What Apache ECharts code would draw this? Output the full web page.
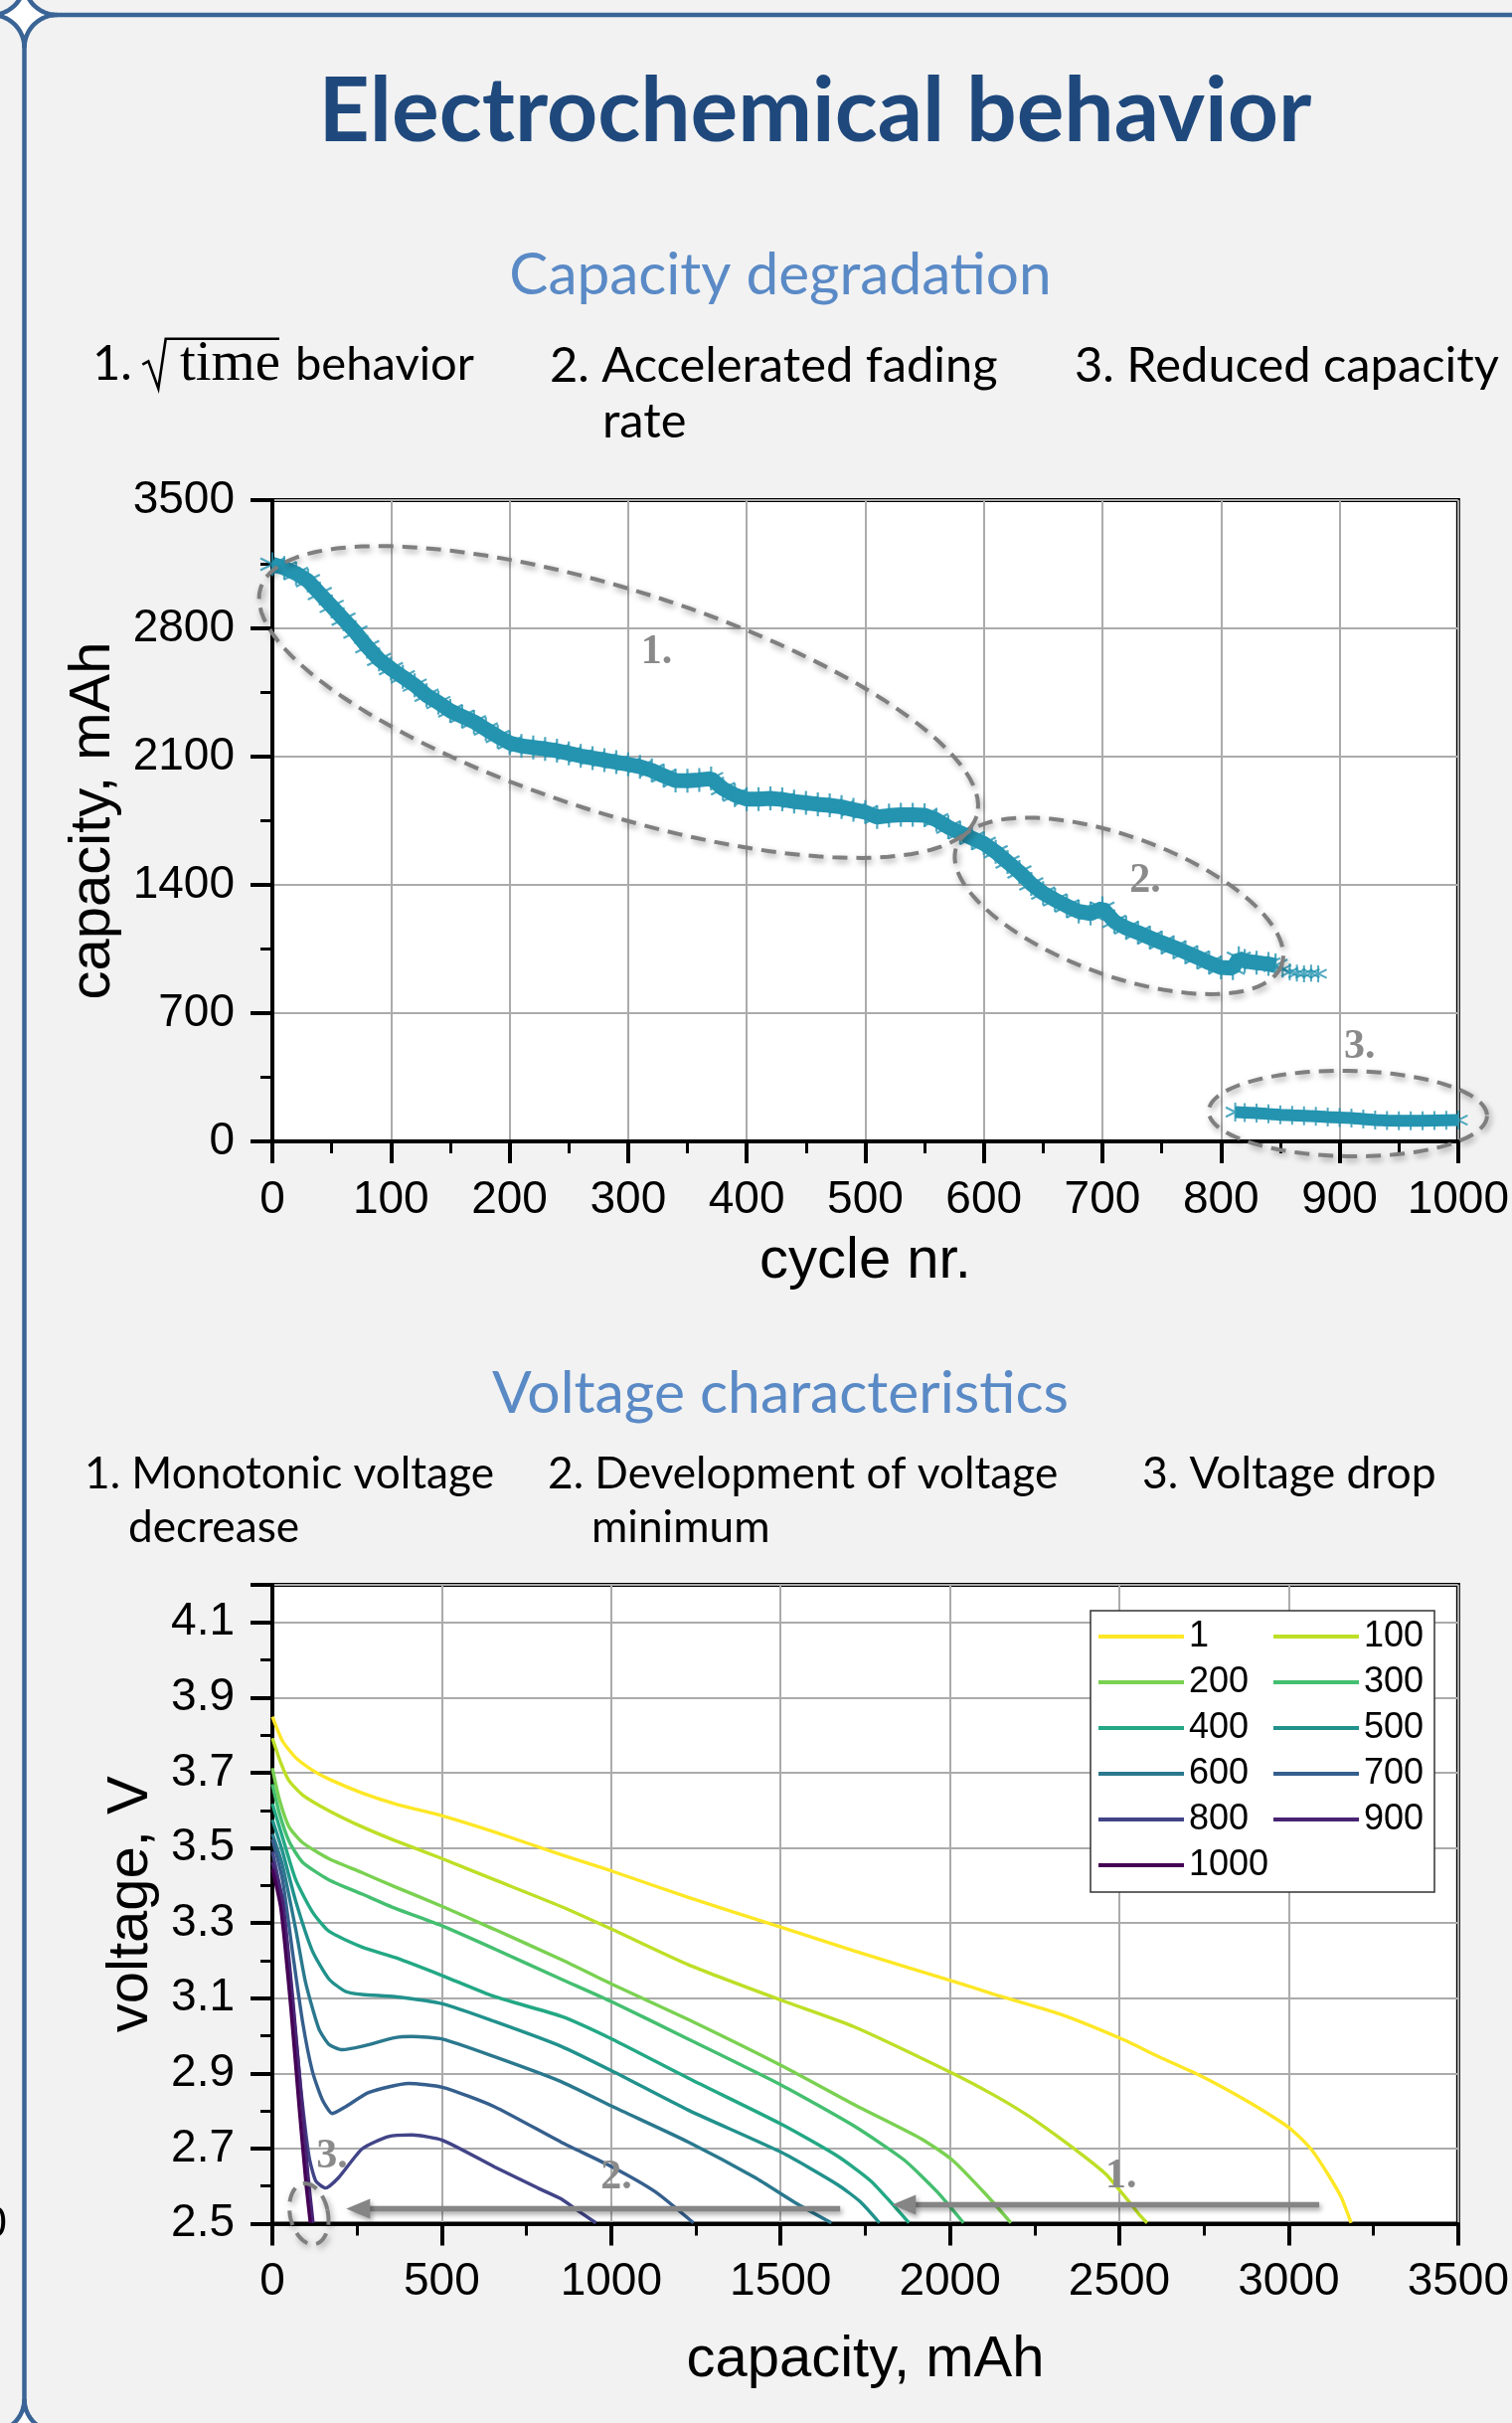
<!DOCTYPE html>
<html><head><meta charset="utf-8">
<script src="https://cdn.jsdelivr.net/npm/echarts@6/dist/echarts.min.js"></script>
<style>html,body{margin:0;padding:0;background:#f2f2f2;}#c{width:1521px;height:2437px;}</style>
</head><body><div id="c"></div>
<script>
// ---------------- DATA ----------------
// Capacity degradation (cycle nr. vs capacity, mAh)
const capCycles = [0,10,20,30,40,50,60,70,80,90,100,110,120,130,140,150,160,170,180,190,200,210,220,230,240,250,260,270,280,290,300,310,320,330,340,350,360,370,380,390,400,410,420,430,440,450,460,470,480,490,500,510,520,530,540,550,560,570,580,590,600,610,620,630,640,650,660,670,680,690,700,710,720,730,740,750,760,770,780,790,800,810,815,820,830,840,846];
const capValues = [3150,3130,3100,3060,2990,2920,2850,2780,2700,2630,2580,2535,2490,2435,2395,2350,2320,2290,2250,2210,2175,2158,2150,2142,2132,2118,2104,2092,2081,2070,2058,2045,2025,1995,1970,1968,1973,1980,1925,1890,1868,1868,1872,1866,1855,1848,1840,1834,1825,1810,1797,1770,1778,1783,1782,1780,1755,1715,1685,1655,1626,1580,1525,1470,1405,1355,1318,1285,1255,1244,1272,1200,1165,1140,1112,1085,1060,1033,1005,975,950,945,1000,985,975,968,960];
const tailCycles = [852,858,864,870,876,882];
const tailValues = [940,925,918,915,918,915];
const lowCycles = [812,820,830,840,850,860,870,880,890,900,910,920,930,940,950,960,970,980,990,1000];
const lowValues = [160,158,155,150,145,142,140,137,133,130,127,122,117,114,112,112,113,114,115,116];

// Voltage characteristics (capacity, mAh vs voltage, V) per cycle
const cycleNames = ['1','100','200','300','400','500','600','700','800','900','1000'];
const c1Cap = [0,30,69,118,167,265,363,502,656,852,1003,1228,1504,1717,2006,2128,2324,2506,2617,2734,2862,2959,3008,3067,3116,3155,3184];
const c1V   = [3.849,3.784,3.740,3.707,3.683,3.646,3.617,3.585,3.542,3.482,3.438,3.368,3.288,3.226,3.146,3.111,3.058,2.992,2.944,2.896,2.834,2.781,2.750,2.697,2.631,2.570,2.502];
const c100Cap = [0,25,49,89,167,265,363,502,656,852,1003,1228,1504,1717,2006,2128,2226,2324,2402,2461,2519,2558,2582];
const c100V   = [3.792,3.726,3.679,3.641,3.599,3.556,3.519,3.471,3.415,3.344,3.283,3.189,3.094,3.024,2.901,2.843,2.790,2.728,2.675,2.631,2.569,2.525,2.502];
const c200Cap = [0,20,49,89,167,265,363,502,656,852,1003,1228,1504,1717,1913,2006,2108,2180];
const c200V   = [3.712,3.631,3.556,3.514,3.471,3.434,3.396,3.344,3.283,3.203,3.137,3.043,2.920,2.817,2.727,2.670,2.576,2.502];
const c300Cap = [0,20,49,89,167,265,363,502,656,852,1003,1228,1504,1717,1864,1962,2040];
const c300V   = [3.669,3.594,3.518,3.462,3.415,3.377,3.339,3.292,3.231,3.151,3.090,2.991,2.868,2.760,2.670,2.585,2.502];
const c400Cap = [0,30,69,118,167,265,363,502,656,852,1003,1228,1504,1668,1766,1825,1879];
const c400V   = [3.617,3.528,3.415,3.330,3.278,3.236,3.208,3.160,3.104,3.052,2.991,2.887,2.764,2.680,2.614,2.557,2.502];
const c500Cap = [0,30,69,118,167,216,265,363,502,656,852,1003,1228,1504,1668,1737,1792];
const c500V   = [3.575,3.490,3.358,3.226,3.151,3.118,3.110,3.104,3.085,3.038,2.972,2.906,2.802,2.689,2.604,2.557,2.502];
const c600Cap = [0,30,69,98,137,167,206,265,363,412,502,656,852,1003,1228,1424,1541,1650];
const c600V   = [3.537,3.453,3.283,3.142,3.019,2.977,2.963,2.972,2.995,2.998,2.991,2.944,2.878,2.812,2.717,2.623,2.557,2.502];
const c700Cap = [0,30,59,89,118,147,177,216,284,402,502,656,852,1003,1130,1243];
const c700V   = [3.523,3.415,3.226,3.038,2.906,2.831,2.793,2.811,2.849,2.873,2.863,2.811,2.717,2.651,2.585,2.502];
const c800Cap = [0,30,59,84,108,128,157,196,265,343,412,502,656,783,852,896,955];
const c800V   = [3.490,3.358,3.094,2.859,2.680,2.614,2.595,2.623,2.699,2.732,2.736,2.722,2.651,2.595,2.566,2.538,2.502];
const c900Cap = [0,30,60,85,105,120];
const c900V   = [3.462,3.360,3.100,2.840,2.630,2.502];
const c1000Cap = [0,25,55,80,100,112];
const c1000V   = [3.443,3.340,3.070,2.800,2.600,2.502];

// ---------------- STYLE ----------------
const curveData = [[c1Cap,c1V],[c100Cap,c100V],[c200Cap,c200V],[c300Cap,c300V],[c400Cap,c400V],[c500Cap,c500V],[c600Cap,c600V],[c700Cap,c700V],[c800Cap,c800V],[c900Cap,c900V],[c1000Cap,c1000V]];
const curveColors = ['#fde725','#bddf26','#7ad151','#44bf70','#22a884','#21918c','#2a788e','#355f8d','#414487','#482475','#440154'];
const TEAL = '#2494b0';
const AX = 'Liberation Sans, Arial, sans-serif';
const CAL = 'Lato';
const zip = (a,b) => a.map((v,i)=>[v,b[i]]);
const ASTER = 'path://M10,0L10,20M1.34,5L18.66,15M1.34,15L18.66,5';
const plain = v => String(v);

function axisX(idx, min, max, interval, name, gap){
  return {gridIndex: idx, type:'value', min, max, interval, name, nameLocation:'middle', nameGap: gap,
    nameTextStyle:{fontSize:58, color:'#000', fontFamily:AX},
    axisLine:{onZero:false, lineStyle:{color:'#000', width:4}},
    axisTick:{length:22, lineStyle:{color:'#000', width:4}},
    minorTick:{show:true, splitNumber:2, length:12, lineStyle:{color:'#000', width:3}},
    axisLabel:{fontSize:46, margin:36, color:'#000', fontFamily:AX, formatter: plain},
    splitLine:{show:true, lineStyle:{color:'#ababab', width:2}}};
}
function axisY(idx, min, max, interval, name, gap, fmt){
  return {gridIndex: idx, type:'value', min, max, interval, name, nameLocation:'middle', nameGap: gap,
    nameTextStyle:{fontSize:58, color:'#000', fontFamily:AX},
    axisLine:{onZero:false, lineStyle:{color:'#000', width:4}},
    axisTick:{length:22, lineStyle:{color:'#000', width:4}},
    minorTick:{show:true, splitNumber:2, length:12, lineStyle:{color:'#000', width:3}},
    axisLabel:{fontSize:46, margin:38, color:'#000', fontFamily:AX, formatter: fmt || plain, showMaxLabel: fmt ? false : true},
    splitLine:{show:true, lineStyle:{color:'#ababab', width:2}}};
}

const series = [
  {type:'line', xAxisIndex:0, yAxisIndex:0, data: zip(capCycles, capValues), showSymbol:false, lineStyle:{color:TEAL, width:15}, z:2, silent:true},
  {type:'scatter', xAxisIndex:0, yAxisIndex:0, data: zip(capCycles, capValues), symbol:ASTER, symbolSize:24, itemStyle:{color:TEAL, borderColor:TEAL, borderWidth:2.2}, z:3, silent:true},
  {type:'scatter', xAxisIndex:0, yAxisIndex:0, data: zip(tailCycles, tailValues), symbol:ASTER, symbolSize:17, itemStyle:{color:TEAL, borderColor:TEAL, borderWidth:2}, z:3, silent:true},
  {type:'line', xAxisIndex:0, yAxisIndex:0, data: zip(lowCycles, lowValues), showSymbol:false, lineStyle:{color:TEAL, width:12}, z:2, silent:true},
  {type:'scatter', xAxisIndex:0, yAxisIndex:0, data: zip(lowCycles, lowValues), symbol:ASTER, symbolSize:19, itemStyle:{color:TEAL, borderColor:TEAL, borderWidth:2}, z:3, silent:true}
];
cycleNames.forEach((n,i)=>{
  series.push({type:'line', name:n, xAxisIndex:1, yAxisIndex:1, data: zip(curveData[i][0], curveData[i][1]),
    showSymbol:false, smooth:0.2, color: curveColors[i], lineStyle:{color:curveColors[i], width:3.4}, z:2, silent:true});
});

const legendBase = {orient:'vertical', itemWidth:86, itemHeight:4, itemGap:10, icon:'rect', padding:0, selectedMode:false,
  textStyle:{fontSize:36, lineHeight:36, color:'#000', fontFamily:AX}, z:10};

const option = {
  backgroundColor:'#f2f2f2',
  animation:false,
  grid:[
    {left:274, top:503, width:1195, height:645, show:true, backgroundColor:'#fff', borderColor:'#000', borderWidth:4},
    {left:274, top:1594, width:1195, height:642.5, show:true, backgroundColor:'#fff', borderColor:'#000', borderWidth:4}
  ],
  xAxis:[ axisX(0,0,1000,100,'cycle nr.',92), axisX(1,0,3500,500,'capacity, mAh',108) ],
  yAxis:[ axisY(0,0,3500,700,'capacity, mAh',147), axisY(1,2.5,4.2,0.2,'voltage, V',111, v=>v.toFixed(1)) ],
  legend:[
    Object.assign({}, legendBase, {data:['1','200','400','600','800','1000'], left:1105, top:1628}),
    Object.assign({}, legendBase, {data:['100','300','500','700','900'], left:1281, top:1628})
  ],
  series
};

const chart = echarts.init(document.getElementById('c'), null, {renderer:'canvas'});
chart.setOption(option);

// ---------------- ANNOTATIONS / TEXT ----------------
const mctx = document.createElement('canvas').getContext('2d');
function fit(text, weight, family, width){ mctx.font = weight+' 100px '+family; return 100*width/mctx.measureText(text).width; }
const MID = {Lato:0.387, 'Liberation Serif':0.3375, 'Liberation Sans':0.3465};
function txt(text, x, baseline, size, weight, family, fill, align){
  const k = MID[family] || 0.35;
  return {type:'text', x:x, y: baseline - k*size, z:20,
    style:{text, font: weight+' '+size.toFixed(1)+'px '+family, fill, textAlign:align||'left', textVerticalAlign:'middle', align:align||'left', verticalAlign:'middle'}};
}
function ellipse(c, rx, ry, rot){
  const pts=[]; const r = rot*Math.PI/180;
  for(let i=0;i<=120;i++){ const t=i/120*2*Math.PI; const u=rx*Math.cos(t), v=ry*Math.sin(t);
    pts.push([c[0]+u*Math.cos(r)-v*Math.sin(r), c[1]+u*Math.sin(r)+v*Math.cos(r)]); }
  return {type:'polyline', shape:{points:pts}, z:15, silent:true,
    style:{stroke:'#7f7f7f', fill:null, lineWidth:4, lineDash:[15,9], shadowBlur:6, shadowColor:'rgba(0,0,0,0.35)', shadowOffsetX:2, shadowOffsetY:3}};
}
function star(cx, cy, r){
  const pts=[]; const arc=(ox,oy,a0,a1)=>{for(let i=0;i<=20;i++){const a=(a0+(a1-a0)*i/20)*Math.PI/180; pts.push([ox+r*Math.cos(a), oy+r*Math.sin(a)]);}};
  arc(cx+r, cy+r, -90, -180); arc(cx-r, cy+r, 0, -90); arc(cx-r, cy-r, 90, 0); arc(cx+r, cy-r, 180, 90);
  return {type:'polygon', shape:{points:pts}, z:30, style:{fill:'#fff', stroke:'#3a6496', lineWidth:4.5}};
}
function arrow(p0, p1){ // p0 tail (right), p1 tip (left)
  const head=24, hw=10;
  return [
    {type:'line', shape:{x1:p0[0], y1:p0[1], x2:p1[0]+head-2, y2:p1[1]}, z:15,
      style:{stroke:'#858585', lineWidth:5.5, shadowBlur:5, shadowColor:'rgba(0,0,0,0.35)', shadowOffsetX:2, shadowOffsetY:3}},
    {type:'polygon', shape:{points:[[p1[0],p1[1]],[p1[0]+head,p1[1]-hw],[p1[0]+head,p1[1]+hw]]}, z:15,
      style:{fill:'#858585', shadowBlur:5, shadowColor:'rgba(0,0,0,0.35)', shadowOffsetX:2, shadowOffsetY:3}}
  ];
}
const P0 = v => chart.convertToPixel({xAxisIndex:0, yAxisIndex:0}, v);
const P1 = v => chart.convertToPixel({xAxisIndex:1, yAxisIndex:1}, v);
const annStyle = {shadowBlur:5, shadowColor:'rgba(0,0,0,0.4)', shadowOffsetX:2, shadowOffsetY:3};
function ann(label, p){ return {type:'text', x:p[0], y:p[1], z:16, style:Object.assign({text:label, font:'bold 42px Liberation Serif', fill:'#8a8a8a', textAlign:'center', textVerticalAlign:'middle', align:'center', verticalAlign:'middle'}, annStyle)}; }

const g = [];
// page frame
g.push({type:'line', shape:{x1:40, y1:15, x2:1521, y2:15}, z:29, style:{stroke:'#3a6496', lineWidth:4.5}});
g.push({type:'line', shape:{x1:24.5, y1:30, x2:24.5, y2:2420}, z:29, style:{stroke:'#3a6496', lineWidth:4.5}});
g.push(star(24.5, 15, 33));
g.push(star(24.5, 2446, 33));
g.push({type:'text', x:7, y:2238, z:20, style:{text:'0', font:'45px Liberation Sans', fill:'#000', textAlign:'right', textVerticalAlign:'middle', align:'right', verticalAlign:'middle'}});

// headings
const DARK='#1f497d', LIGHT='#5a8ac6';
g.push(txt('Electrochemical behavior', 820, 148, fit('Electrochemical behavior','bold',CAL,999), 'bold', CAL, DARK, 'center'));
g.push(txt('Capacity degradation', 785, 300, fit('Capacity degradation','normal',CAL,545), 'normal', CAL, LIGHT, 'center'));
g.push(txt('Voltage characteristics', 785, 1425, fit('Voltage characteristics','normal',CAL,580), 'normal', CAL, LIGHT, 'center'));

const sA = fit('2. Accelerated fading','normal',CAL,451);
g.push(txt('2. Accelerated fading', 553, 387, sA, 'normal', CAL, '#000'));
g.push(txt('rate', 606, 443, sA, 'normal', CAL, '#000'));
g.push(txt('3. Reduced capacity', 1081, 387, fit('3. Reduced capacity','normal',CAL,427), 'normal', CAL, '#000'));
g.push(txt('1.', 93, 385, sA, 'normal', CAL, '#000'));
g.push({type:'polyline', shape:{points:[[143.3,366.7],[149.3,363.3],[159.3,390.7],[166.7,340.7],[281,340.7]]}, z:20, style:{stroke:'#000', lineWidth:2.6, fill:null}});
g.push(txt('time', 181, 386, fit('time','normal','Liberation Serif',101), 'normal', 'Liberation Serif', '#000'));
g.push(txt('behavior', 297, 385, fit('behavior','normal',CAL,180), 'normal', CAL, '#000'));

const sB = fit('2. Development of voltage','normal',CAL,513);
g.push(txt('1. Monotonic voltage', 85, 1500, fit('1. Monotonic voltage','normal',CAL,412), 'normal', CAL, '#000'));
g.push(txt('decrease', 129, 1554, sB, 'normal', CAL, '#000'));
g.push(txt('2. Development of voltage', 551, 1500, sB, 'normal', CAL, '#000'));
g.push(txt('minimum', 595, 1554, sB, 'normal', CAL, '#000'));
g.push(txt('3. Voltage drop', 1149, 1500, fit('3. Voltage drop','normal',CAL,296), 'normal', CAL, '#000'));

// capacity chart annotations (anchored in data space)
g.push(ellipse(P0([292, 2398]), 378, 112, 17.7));
g.push(ellipse(P0([714, 1285]), 174, 70, 20));
g.push(ellipse(P0([907, 152]), 140, 43, 1));
g.push(ann('1.', P0([324, 2667])));
g.push(ann('2.', P0([736, 1422])));
g.push(ann('3.', P0([917, 515])));

// voltage chart annotations
arrow(P1([3090, 2.55]), P1([1829, 2.55])).forEach(e=>g.push(e));
arrow(P1([1676, 2.54]), P1([218, 2.54])).forEach(e=>g.push(e));
g.push(ellipse(P1([108, 2.526]), 19, 31, -12));
g.push(ann('1.', P1([2505, 2.625])));
g.push(ann('2.', P1([1015, 2.623])));
g.push(ann('3.', P1([176, 2.678])));

// legend frame
g.push({type:'rect', shape:{x:1097, y:1620, width:346, height:283}, z:3, style:{fill:'#fff', stroke:'#333', lineWidth:1.5}});

chart.setOption({graphic: g});
</script>
</body></html>
